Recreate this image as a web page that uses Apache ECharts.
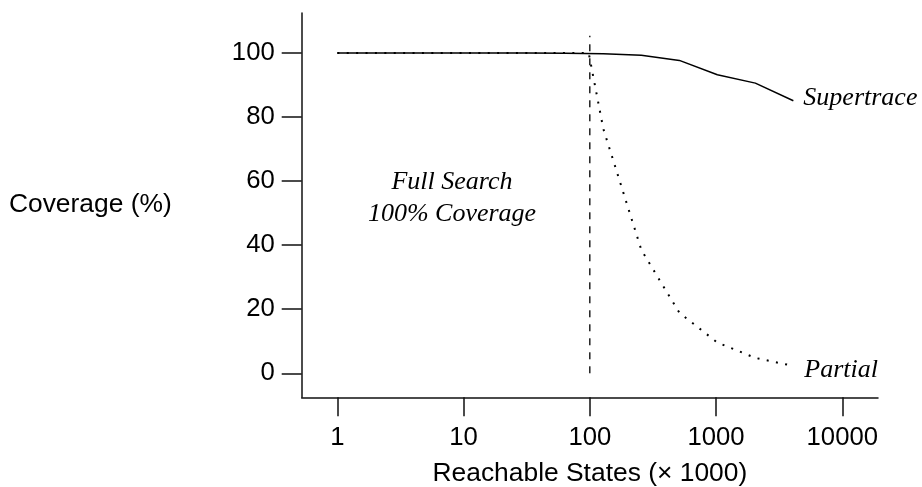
<!DOCTYPE html>
<html>
<head>
<meta charset="utf-8">
<script src="https://cdn.jsdelivr.net/npm/echarts@6/dist/echarts.min.js"></script>
<style>
html, body { margin: 0; padding: 0; background: #fff; }
#mainChart { width: 922px; height: 487px; }
</style>
</head>
<body>
<div id="mainChart"></div>
<script>
// reachable states (x 1000) and coverage (%)
var superStates = [1, 2, 4, 8, 16, 32, 64, 128, 256, 512, 1024, 2048, 4096];
var superCoverage = [100, 100, 100, 100, 100, 100, 99.9, 99.8, 99.3, 97.7, 93.2, 90.6, 85.1];
var partialStates = [1, 2, 4, 8, 16, 32, 64, 98, 128, 256, 512, 1024, 2048, 4096];
var partialCoverage = [100, 100, 100, 100, 100, 100, 100, 100, 76.3, 38.5, 18.9, 9.6, 4.8, 2.3];
var fullSearchStates = [100, 100];
var fullSearchCoverage = [0, 105.4];
var xTicks = [1, 10, 100, 1000, 10000];
var yTicks = [0, 20, 40, 60, 80, 100];

function zip(xs, ys) {
    var out = [];
    for (var i = 0; i < xs.length; i++) out.push([xs[i], ys[i]]);
    return out;
}

(function mainChartShow() {
    var n = echarts.init(document.getElementById("mainChart"));
    var sans = "Liberation Sans, Arial, sans-serif";
    var tickFont = { color: "#000", fontSize: 25.7, fontFamily: sans };
    var nameFont = { color: "#000", fontSize: 26.4, fontFamily: sans };
    var italicFont = { color: "#000", fontSize: 26, fontStyle: "italic", fontFamily: "Liberation Serif, Times New Roman, serif" };
    n.setOption({
        animation: false,
        backgroundColor: "#fff",
        grid: { left: 301.7, right: 44, top: 13, bottom: 89.7, containLabel: false, outerBoundsMode: "none" },
        xAxis: {
            type: "log", logBase: 10, min: 0.522, max: 19180,
            name: "Reachable States (\u00d7 1000)", nameLocation: "middle", nameGap: 63,
            nameTextStyle: nameFont,
            axisLine: { onZero: false, lineStyle: { color: "#111", width: 1.5 } },
            axisTick: { show: true, length: 19, customValues: xTicks, lineStyle: { color: "#111", width: 1.5 } },
            axisLabel: Object.assign({ margin: 28, customValues: xTicks, formatter: function (v) { return String(v); } }, tickFont),
            splitLine: { show: false }, minorTick: { show: false }
        },
        yAxis: {
            type: "value", min: -7.5, max: 112.5,
            name: "Coverage (%)", nameLocation: "middle", nameRotate: 0, nameGap: 130,
            nameTextStyle: Object.assign({ align: "right" }, nameFont),
            axisLine: { show: true, onZero: false, lineStyle: { color: "#111", width: 1.5 } },
            axisTick: { show: true, length: 20, customValues: yTicks, lineStyle: { color: "#111", width: 1.5 } },
            axisLabel: Object.assign({ margin: 27, customValues: yTicks }, tickFont),
            splitLine: { show: false }
        },
        graphic: [{
            type: "text", x: 452, y: 166,
            style: { text: "Full Search\n100% Coverage", align: "center", verticalAlign: "top", lineHeight: 32,
                font: "italic 26px 'Liberation Serif', serif", fill: "#000" }
        }],
        series: [
            {
                name: "Supertrace", type: "line", symbol: "none",
                data: zip(superStates, superCoverage),
                lineStyle: { color: "#000", width: 1.5 },
                endLabel: Object.assign({ show: true, formatter: "{a}", distance: 10, offset: [0, -3] }, italicFont)
            },
            {
                name: "Partial", type: "line", symbol: "none",
                data: zip(partialStates, partialCoverage),
                lineStyle: { color: "#000", width: 2, type: [2, 7.4] },
                endLabel: Object.assign({ show: true, formatter: "{a}", distance: 11, offset: [0, 4] }, italicFont)
            },
            {
                name: "Full Search", type: "line", symbol: "none",
                data: zip(fullSearchStates, fullSearchCoverage),
                lineStyle: { color: "#000", width: 1.3, type: [7, 7] }
            }
        ]
    });
})();
</script>
</body>
</html>
